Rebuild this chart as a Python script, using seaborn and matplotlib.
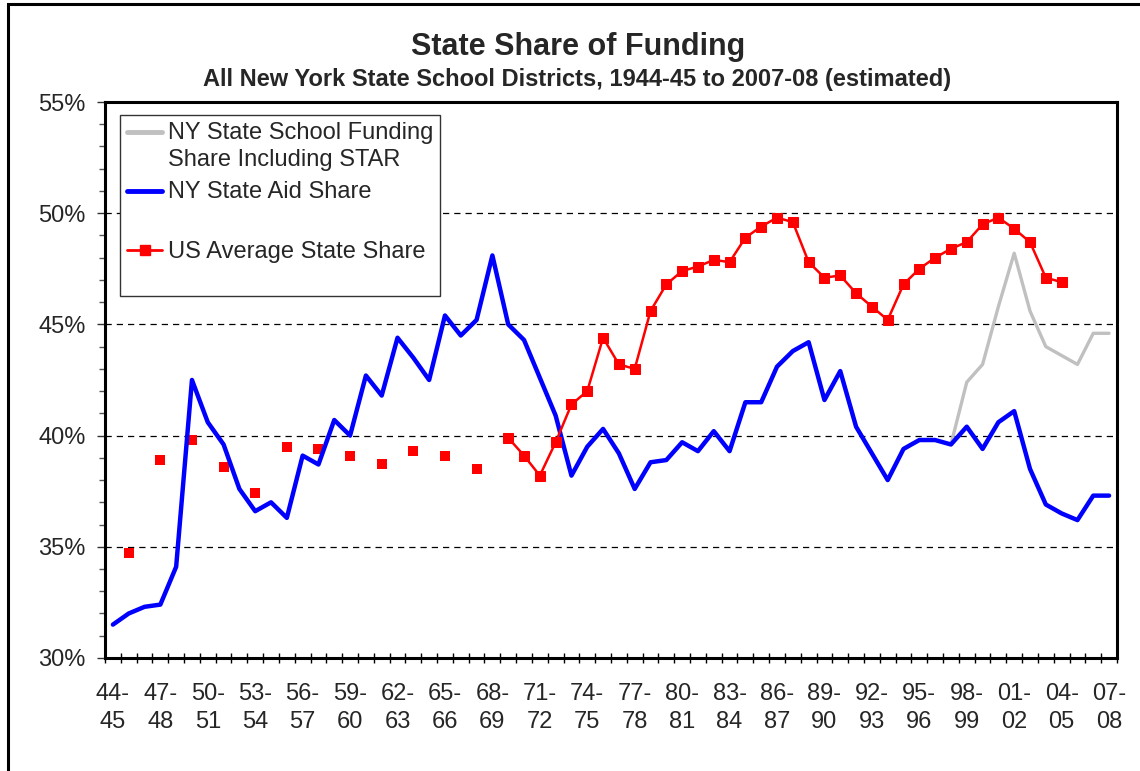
import numpy as np
import pandas as pd
import seaborn as sns
import matplotlib.pyplot as plt
from matplotlib.lines import Line2D
from matplotlib.patches import Rectangle
from matplotlib.ticker import FixedLocator, MultipleLocator, PercentFormatter
from matplotlib.legend_handler import HandlerLine2D


# school years 1944-45 .. 2007-08
school_years = [f"{(44 + i) % 100:02d}-{(45 + i) % 100:02d}" for i in range(64)]

ny_aid_share = [
    31.5, 32.0, 32.3, 32.4, 34.1, 42.5, 40.6, 39.6, 37.6, 36.6,
    37.0, 36.3, 39.1, 38.7, 40.7, 40.0, 42.7, 41.8, 44.4, 43.5,
    42.5, 45.4, 44.5, 45.2, 48.1, 45.0, 44.3, 42.6, 40.9, 38.2,
    39.5, 40.3, 39.2, 37.6, 38.8, 38.9, 39.7, 39.3, 40.2, 39.3,
    41.5, 41.5, 43.1, 43.8, 44.2, 41.6, 42.9, 40.4, 39.2, 38.0,
    39.4, 39.8, 39.8, 39.6, 40.4, 39.4, 40.6, 41.1, 38.5, 36.9,
    36.5, 36.2, 37.3, 37.3,
]

# including STAR, 1997-98 onwards (same as aid share before that)
star_first_year = "97-98"
ny_share_with_star = [39.6, 42.4, 43.2, 45.8, 48.2, 45.6, 44.0, 43.6, 43.2, 44.6, 44.6]

# US average: only every other year until 1968-69
us_biennial_years = ["45-46", "47-48", "49-50", "51-52", "53-54", "55-56",
                     "57-58", "59-60", "61-62", "63-64", "65-66", "67-68"]
us_biennial_share = [34.7, 38.9, 39.8, 38.6, 37.4, 39.5, 39.4, 39.1, 38.7, 39.3, 39.1, 38.5]

us_first_annual_year = "69-70"
us_annual_share = [
    39.9, 39.1, 38.2, 39.7, 41.4, 42.0, 44.4, 43.2, 43.0, 45.6,
    46.8, 47.4, 47.6, 47.9, 47.8, 48.9, 49.4, 49.8, 49.6, 47.8,
    47.1, 47.2, 46.4, 45.8, 45.2, 46.8, 47.5, 48.0, 48.4, 48.7,
    49.5, 49.8, 49.3, 48.7, 47.1, 46.9,
]

GREY = "#c0c0c0"
BLUE = "#0000ff"
RED = "#ff0000"
FS = 17


class FirstLineHandler(HandlerLine2D):
    # legend key sits beside the first text line, like in Excel
    def create_artists(self, legend, orig_handle, xdescent, ydescent,
                       width, height, fontsize, trans):
        artists = super().create_artists(legend, orig_handle, xdescent, ydescent,
                                         width, height, fontsize, trans)
        for a in artists:
            a.set_ydata(np.asarray(a.get_ydata(), dtype=float) + 0.63 * fontsize)
        return artists


def main():
    pos = {yr: i for i, yr in enumerate(school_years)}

    aid = pd.DataFrame({"x": range(len(school_years)), "share": ny_aid_share})
    s0 = pos[star_first_year]
    star = pd.DataFrame({"x": range(s0, s0 + len(ny_share_with_star)),
                         "share": ny_share_with_star})
    u0 = pos[us_first_annual_year]
    us_line = pd.DataFrame({"x": range(u0, u0 + len(us_annual_share)),
                            "share": us_annual_share})
    us_pts = pd.DataFrame({"x": [pos[y] for y in us_biennial_years],
                           "share": us_biennial_share})

    sns.set_theme(style="white")
    plt.rcParams["font.family"] = ["Liberation Sans", "DejaVu Sans"]

    fig = plt.figure(figsize=(11.4, 7.71), dpi=100)
    ax = fig.add_axes([0.0921, 0.1466, 0.8877, 0.7211])

    sns.lineplot(data=star, x="x", y="share", color=GREY, lw=2.4, ax=ax)
    sns.lineplot(data=aid, x="x", y="share", color=BLUE, lw=3.2, ax=ax)
    sns.lineplot(data=us_line, x="x", y="share", color=RED, lw=1.8,
                 marker="s", markersize=7.3, markeredgecolor=RED, ax=ax)
    sns.scatterplot(data=us_pts, x="x", y="share", color=RED, marker="s",
                    s=53, edgecolor=RED, linewidth=0, ax=ax)

    ax.set_xlim(-0.5, len(school_years) - 0.5)
    ax.set_ylim(30, 55)
    ax.set_xlabel("")
    ax.set_ylabel("")

    ticks = list(range(0, len(school_years), 3))
    ax.set_xticks(ticks)
    ax.set_xticklabels([school_years[i].replace("-", "-\n") for i in ticks], fontsize=FS)
    for t in ax.get_xticklabels():
        t.set_linespacing(1.35)
    ax.xaxis.set_minor_locator(FixedLocator(np.arange(-0.5, len(school_years), 1)))
    ax.tick_params(axis="x", which="major", length=0, pad=18)
    ax.tick_params(axis="x", which="minor", direction="inout", length=7,
                   width=1, color="black", bottom=True)

    ax.yaxis.set_major_locator(MultipleLocator(5))
    ax.yaxis.set_minor_locator(MultipleLocator(1))
    ax.yaxis.set_major_formatter(PercentFormatter(decimals=0))
    ax.tick_params(axis="y", which="major", direction="out", length=6, width=1,
                   color="#333333", labelsize=FS, pad=8, left=True)
    ax.tick_params(axis="y", which="minor", direction="out", length=4.3, width=1,
                   color="#555555", left=True)

    ax.set_axisbelow(True)
    ax.yaxis.grid(True, which="major", color="black", lw=0.9, linestyle=(0, (5, 4)))
    for sp in ax.spines.values():
        sp.set_color("black")
        sp.set_linewidth(2.2)

    handles = [
        Line2D([], [], color=GREY, lw=3.5),
        Line2D([], [], color=BLUE, lw=3.5),
        Line2D([], [], color=RED, lw=2, marker="s", markersize=7),
    ]
    labels = ["NY State School Funding\nShare Including STAR",
              "NY State Aid Share\n",
              "US Average State Share\n"]
    leg = ax.legend(handles, labels, loc="upper left", bbox_to_anchor=(0.0148, 0.9766),
                    borderaxespad=0, frameon=True, fancybox=False, framealpha=1,
                    edgecolor="#333333", fontsize=FS, handlelength=1.5,
                    handletextpad=0.22, labelspacing=0.45, borderpad=0.3,
                    numpoints=1, handler_map={Line2D: FirstLineHandler()})
    leg.get_frame().set_linewidth(1)
    for t in leg.get_texts():
        t.set_linespacing(1.27)

    fig.text(0.507, 0.9395, "State Share of Funding", ha="center", va="center",
             fontsize=22, fontweight="bold")
    fig.text(0.506, 0.897,
             "All New York State School Districts, 1944-45 to 2007-08 (estimated)",
             ha="center", va="center", fontsize=17, fontweight="bold")

    fig.add_artist(Rectangle((8 / 1140, -0.05), 1.2, 0.9948 + 0.05,
                             transform=fig.transFigure, fill=False,
                             edgecolor="black", lw=2.2))

    fig.savefig("out.png", dpi=100)
    plt.close(fig)


if __name__ == "__main__":
    main()
